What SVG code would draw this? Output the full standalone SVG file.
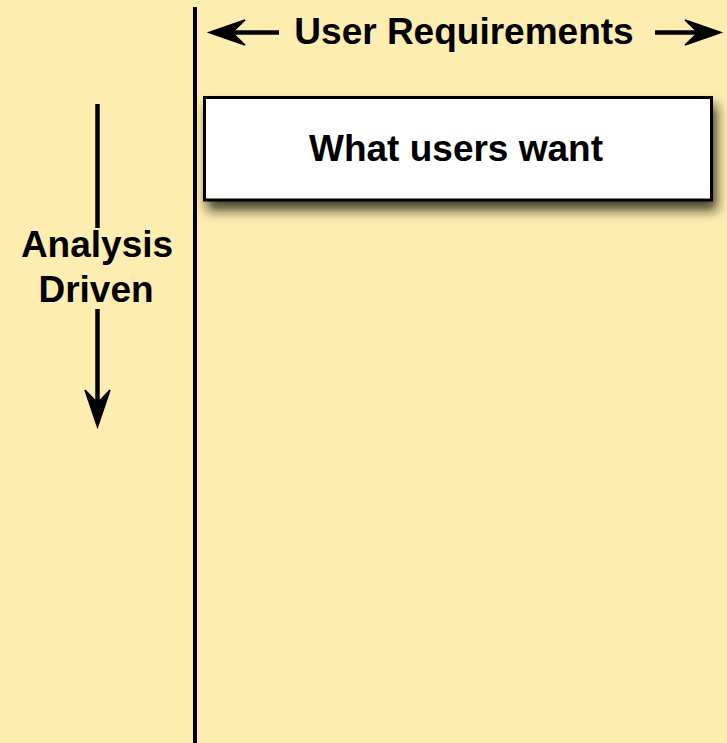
<svg xmlns="http://www.w3.org/2000/svg" width="727" height="743" viewBox="0 0 727 743">
  <style>
    .lbl { font-family: "Liberation Sans", Arial, sans-serif; font-weight: bold; font-size: 37px; fill: #000; }
    .line { stroke: #000; stroke-width: 4.5; fill: none; }
    .head { fill: #000; stroke: #000; stroke-width: 1.5; stroke-linejoin: miter; }
  </style>
  <defs>
    <filter id="shadow" x="-10%" y="-30%" width="125%" height="190%">
      <feDropShadow dx="4" dy="9" stdDeviation="6" flood-color="#1a1608" flood-opacity="0.8"/>
    </filter>
  </defs>

  <!-- page background -->
  <rect x="0" y="0" width="727" height="743" fill="#FEEDB0"/>

  <g id="connectors">
    <!-- swimlane divider -->
    <line class="line" x1="195" y1="7" x2="195" y2="743" style="stroke-width:4"/>

    <!-- horizontal axis arrows -->
    <line class="line" x1="225" y1="32.5" x2="279" y2="32.5"/>
    <path class="head" d="M209,32.5 L245,20 L232,32.5 L245,45 Z"/>
    <line class="line" x1="655" y1="32.5" x2="705" y2="32.5"/>
    <path class="head" d="M721,32.5 L685,20 L698,32.5 L685,45 Z"/>

    <!-- vertical axis arrow -->
    <line class="line" x1="97.5" y1="104" x2="97.5" y2="228"/>
    <line class="line" x1="97.5" y1="309" x2="97.5" y2="410"/>
    <path class="head" d="M97.5,427 L85,390 L97.5,403 L110,390 Z"/>
  </g>

  <g id="axis-user-requirements">
    <text class="lbl" x="464" y="44" text-anchor="middle">User Requirements</text>
  </g>

  <g id="axis-analysis-driven">
    <text class="lbl" x="97" y="257" text-anchor="middle">Analysis</text>
    <text class="lbl" x="96" y="302" text-anchor="middle">Driven</text>
  </g>

  <g id="node-what-users-want">
    <rect x="204.5" y="97.5" width="507" height="102.5" fill="#fff" stroke="#000" stroke-width="3" filter="url(#shadow)"/>
    <text class="lbl" x="456" y="161" text-anchor="middle">What users want</text>
  </g>
</svg>
